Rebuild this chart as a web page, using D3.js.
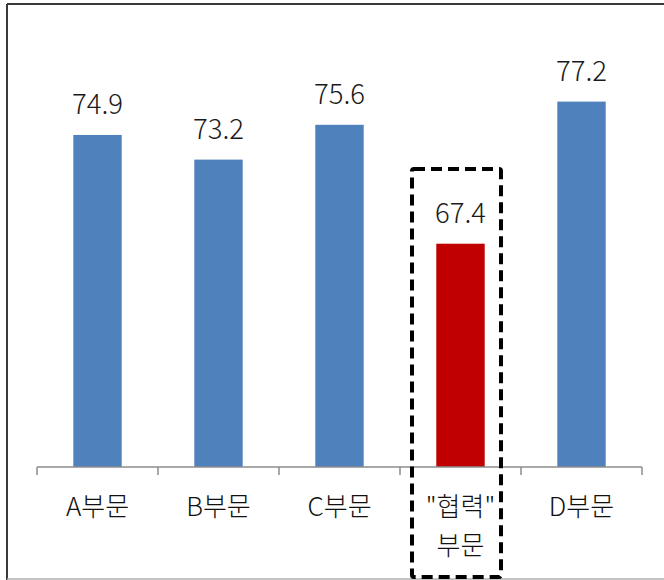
<!DOCTYPE html>
<html>
<head>
<meta charset="utf-8">
<script src="https://cdn.jsdelivr.net/npm/d3@7"></script>
<style>
  body { margin: 0; background: #fff; }
  svg { display: block; }
</style>
</head>
<body>
<script>
var categories = ["A부문", "B부문", "C부문", "\"협력\"\n부문", "D부문"];
var values = [74.9, 73.2, 75.6, 67.4, 77.2];
var highlight = [false, false, false, true, false];

var w = 664;
var h = 580;
var font = "'Noto Sans CJK KR', 'Noto Sans', sans-serif";

var svg = d3.select("body")
    .append("svg")
    .attr("width", w)
    .attr("height", h);

// frame: dark left/top, light bottom edge
svg.append("line").attr("x1", 7).attr("x2", 7).attr("y1", 4).attr("y2", h)
    .attr("stroke", "#3a3a3a").attr("stroke-width", 2);
svg.append("line").attr("x1", 7).attr("x2", w).attr("y1", 4).attr("y2", 4)
    .attr("stroke", "#3a3a3a").attr("stroke-width", 2);
svg.append("line").attr("x1", 7).attr("x2", w).attr("y1", 579).attr("y2", 579)
    .attr("stroke", "#b0b0b0").attr("stroke-width", 1.5);

var xScale = d3.scaleBand()
    .domain(categories)
    .range([37, 642])
    .padding(0);

var yScale = d3.scaleLinear()
    .domain([52, 80])
    .range([467, 61]);

var barW = xScale.bandwidth() * 0.4;

svg.selectAll("rect.bar")
    .data(values)
    .enter()
    .append("rect")
    .attr("class", "bar")
    .attr("x", function(d, i) { return xScale(categories[i]) + (xScale.bandwidth() - barW) / 2; })
    .attr("y", function(d) { return yScale(d); })
    .attr("width", barW)
    .attr("height", function(d) { return yScale(52) - yScale(d); })
    .attr("fill", function(d, i) { return highlight[i] ? "#C00000" : "#4F81BD"; });

// value labels
svg.selectAll("text.val")
    .data(values)
    .enter()
    .append("text")
    .attr("class", "val")
    .attr("x", function(d, i) { return xScale(categories[i]) + xScale.bandwidth() / 2; })
    .attr("y", function(d) { return yScale(d) - 21; })
    .attr("text-anchor", "middle")
    .style("font-family", font)
    .style("font-size", "27.5px")
    .style("font-weight", 300)
    .attr("fill", "#1a1a1a")
    .text(function(d) { return d.toFixed(1); });

// x axis line and boundary ticks
var axisY = yScale(52);
var ax = svg.append("g").attr("stroke", "#8c8c8c").attr("stroke-width", 1.5);
ax.append("line").attr("x1", 37).attr("x2", 642).attr("y1", axisY).attr("y2", axisY);
var tickXs = categories.map(function(c) { return xScale(c); }).concat([642]);
ax.selectAll("line.tick")
    .data(tickXs)
    .enter()
    .append("line")
    .attr("class", "tick")
    .attr("x1", function(d) { return d; })
    .attr("x2", function(d) { return d; })
    .attr("y1", axisY)
    .attr("y2", axisY + 8);

// category labels (multi-line)
svg.selectAll("text.cat")
    .data(categories)
    .enter()
    .append("text")
    .attr("class", "cat")
    .attr("x", function(d) { return xScale(d) + xScale.bandwidth() / 2; })
    .attr("y", 516)
    .attr("text-anchor", "middle")
    .style("font-family", font)
    .style("font-size", "26px")
    .style("font-weight", 300)
    .attr("fill", "#111")
    .each(function(d) {
        var lines = d.split("\n");
        var t = d3.select(this);
        lines.forEach(function(l, k) {
            t.append("tspan")
                .attr("x", xScale(d) + xScale.bandwidth() / 2)
                .attr("dy", k === 0 ? 0 : 39)
                .text(l);
        });
    });

// dashed highlight box around the "협력" category
var hi = categories[highlight.indexOf(true)];
svg.append("rect")
    .attr("x", xScale(hi) + 12)
    .attr("y", 169)
    .attr("width", xScale.bandwidth() - 32)
    .attr("height", 408)
    .attr("rx", 2)
    .attr("fill", "none")
    .attr("stroke", "#000")
    .attr("stroke-width", 4)
    .attr("stroke-dasharray", "11,6");
</script>
</body>
</html>
